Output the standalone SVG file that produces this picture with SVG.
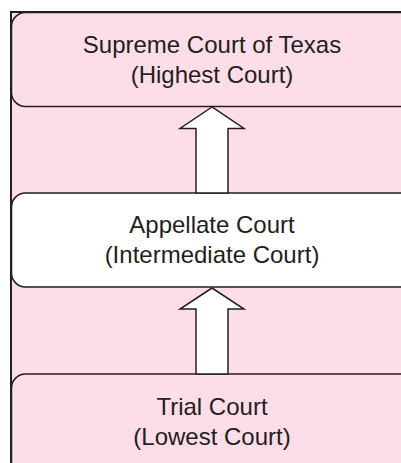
<svg xmlns="http://www.w3.org/2000/svg" width="401" height="463" viewBox="0 0 401 463">
<style>
.box{stroke:#231f20;stroke-width:1.5}
.pink{fill:#fcdde8}
.white{fill:#ffffff}
.lbl{font-family:"Liberation Sans",Arial,sans-serif;font-size:24px;fill:#231f20;text-anchor:middle}
.arrow{fill:#ffffff;stroke:#231f20;stroke-width:1.5;stroke-linejoin:miter}
</style>
<rect x="0" y="0" width="401" height="463" fill="#ffffff"/>
<rect x="11" y="12" width="400" height="460" class="pink"/>
<path d="M11,463 V12 H401" fill="none" stroke="#231f20" stroke-width="2"/>
<g id="supreme">
<rect x="11.5" y="12.5" width="420" height="94" rx="14" class="box pink"/>
<text x="212" y="53" class="lbl">Supreme Court of Texas</text>
<text x="212" y="83" class="lbl">(Highest Court)</text>
</g>
<g id="appellate">
<rect x="11.5" y="193" width="420" height="94" rx="14" class="box white"/>
<text x="212" y="233" class="lbl">Appellate Court</text>
<text x="212" y="263" class="lbl">(Intermediate Court)</text>
</g>
<g id="trial">
<rect x="11.5" y="374" width="420" height="120" rx="14" class="box pink"/>
<text x="212" y="415" class="lbl">Trial Court</text>
<text x="212" y="445" class="lbl">(Lowest Court)</text>
</g>
<g id="connectors">
<polygon class="arrow" points="212,107 180,128.5 196,128.5 196,193 228,193 228,128.5 244,128.5"/>
<polygon class="arrow" points="212,288 180,309 196,309 196,374 228,374 228,309 244,309"/>
</g>
</svg>
